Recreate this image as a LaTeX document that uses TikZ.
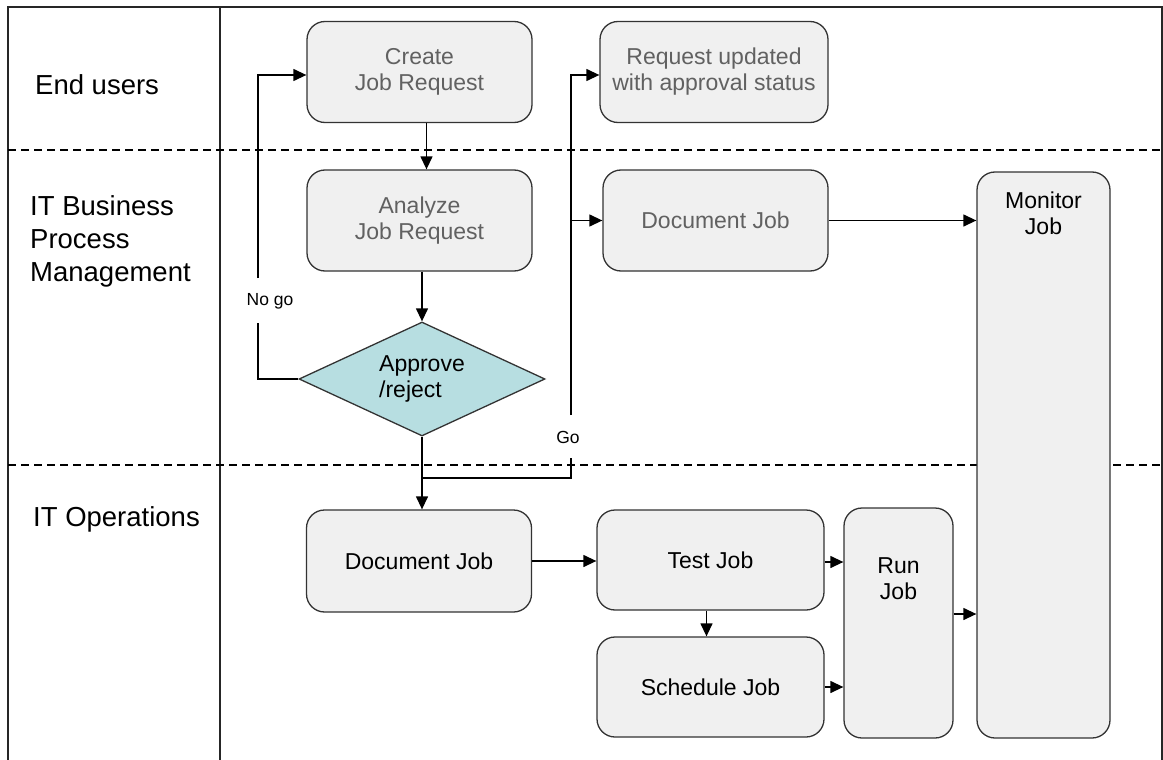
\documentclass[tikz,border=0pt]{standalone}
\usepackage{fontspec}
\setmainfont{Liberation Sans}
\usetikzlibrary{positioning,shapes.geometric,arrows.meta}
\definecolor{taskfill}{RGB}{240,240,240}
\definecolor{approvefill}{RGB}{183,222,225}

\begin{document}
\begin{tikzpicture}[
    x=1pt,y=-1pt,
    swim/.style={line width=1.5pt,black!85},
    lane/.style={anchor=west,align=left,inner sep=0pt,
      font=\fontsize{27.5}{33}\selectfont},
    task/.style={draw=black!80,line width=1.3pt,fill=taskfill,
      rounded corners=18pt,align=center,inner sep=0pt,
      font=\fontsize{23}{26}\selectfont},
    upper task/.style={task,text=black!62},
    toptext/.style={anchor=north,align=center,inner sep=0pt,
      font=\fontsize{23}{26}\selectfont},
    flow/.style={line width=1.3pt,-{Triangle[length=13pt,width=12pt]}},
    branch/.style={line width=1.3pt},
    answer/.style={inner sep=0pt,font=\fontsize{17.5}{20}\selectfont},
  ]
  \useasboundingbox (0,0) rectangle (1163,760);
  % swimlanes
  \draw [swim]
    (8,760) -- (8,7) -- (1162,7) -- (1162,760)
  ;
  \draw [swim] (220,7) -- (220,760);
  \draw [line width=1.2pt,dash pattern=on 8pt off 5pt]
    (8,150) -- (1162,150)
    (8,465) -- (1162,465)
  ;
  \node [lane] (endusers) at (35,85) {End users};
  \node [lane] (bpm) at (30,241) {IT Business\\Process\\Management};
  \node [lane] (operations) at (33,519) {IT Operations};
  % tasks
  \node [upper task,minimum width=225pt,minimum height=101pt]
    (create) at (419.5,72) {Create\\Job Request};
  \node [upper task,minimum width=225pt,minimum height=101pt]
    (analyze) at (419.5,220.5) {Analyze\\Job Request};
  \node [upper task,minimum width=228pt,minimum height=101pt]
    (update) at (714,72) {Request updated\\with approval status};
  \node [upper task,minimum width=225pt,minimum height=101pt]
    (docbpm) at (715.5,220.5) {Document Job};
  \node [diamond,draw=black!80,line width=1.3pt,fill=approvefill,
      minimum width=246pt,minimum height=114pt,aspect=2.16,
      inner sep=0pt,align=left,font=\fontsize{23}{26}\selectfont]
    (approve) at (422,379) {Approve\\/reject};
  \node [task,minimum width=225pt,minimum height=102pt]
    (docops) at (419,561) {Document Job};
  \node [task,minimum width=227pt,minimum height=100pt]
    (test) at (710.5,560) {Test Job};
  \node [task,minimum width=227pt,minimum height=100pt]
    (schedule) at (710.5,687) {Schedule Job};
  \node [task,minimum width=109pt,minimum height=230pt,
      label={[toptext,yshift=-50pt]north:Run\\Job}]
    (run) at (898.5,623) {};
  \node [task,minimum width=133pt,minimum height=566pt,
      label={[toptext,yshift=-20pt]north:Monitor\\Job}]
    (monitor) at (1043.5,455) {};
  % answers
  \node [answer] (nogo) at (270,301) {No go};
  \node [answer] (go) at (568,437) {Go};
  \coordinate (nogo low) at (258,323);
  \coordinate (nogo high) at (258,278);
  \coordinate (go low) at (571,458);
  \coordinate (go high) at (571,415);
  \coordinate (split) at (422,478);
  % flows
  \draw [flow] ([xshift=7pt]create.south) -- ([xshift=7pt]analyze.north);
  \draw [flow] (analyze.south -| approve) -- (approve.north);
  \draw [branch] (approve.west) -| (nogo low);
  \draw [flow] (nogo high) |- ([yshift=-3pt]create.west);
  \draw [flow] (approve.south) -- (approve.south |- docops.north);
  \draw [branch] (split) -| (go low);
  \draw [flow] (go high) |- ([yshift=-3pt]update.west);
  \draw [flow] (go high |- docbpm) -- (docbpm.west);
  \draw [flow] (docbpm.east) -- (docbpm.east -| monitor.west);
  \draw [flow] (docops.east) -- (docops.east -| test.west);
  \draw [flow] ([xshift=-4pt]test.south) -- ([xshift=-4pt]schedule.north);
  \draw [flow] ([yshift=-2pt]test.east) -- ([yshift=-2pt]test.east -| run.west);
  \draw [flow] (schedule.east) -- (schedule.east -| run.west);
  \draw [flow] ([yshift=9pt]run.east) -- ([yshift=9pt]run.east -| monitor.west);
\end{tikzpicture}
\end{document}
